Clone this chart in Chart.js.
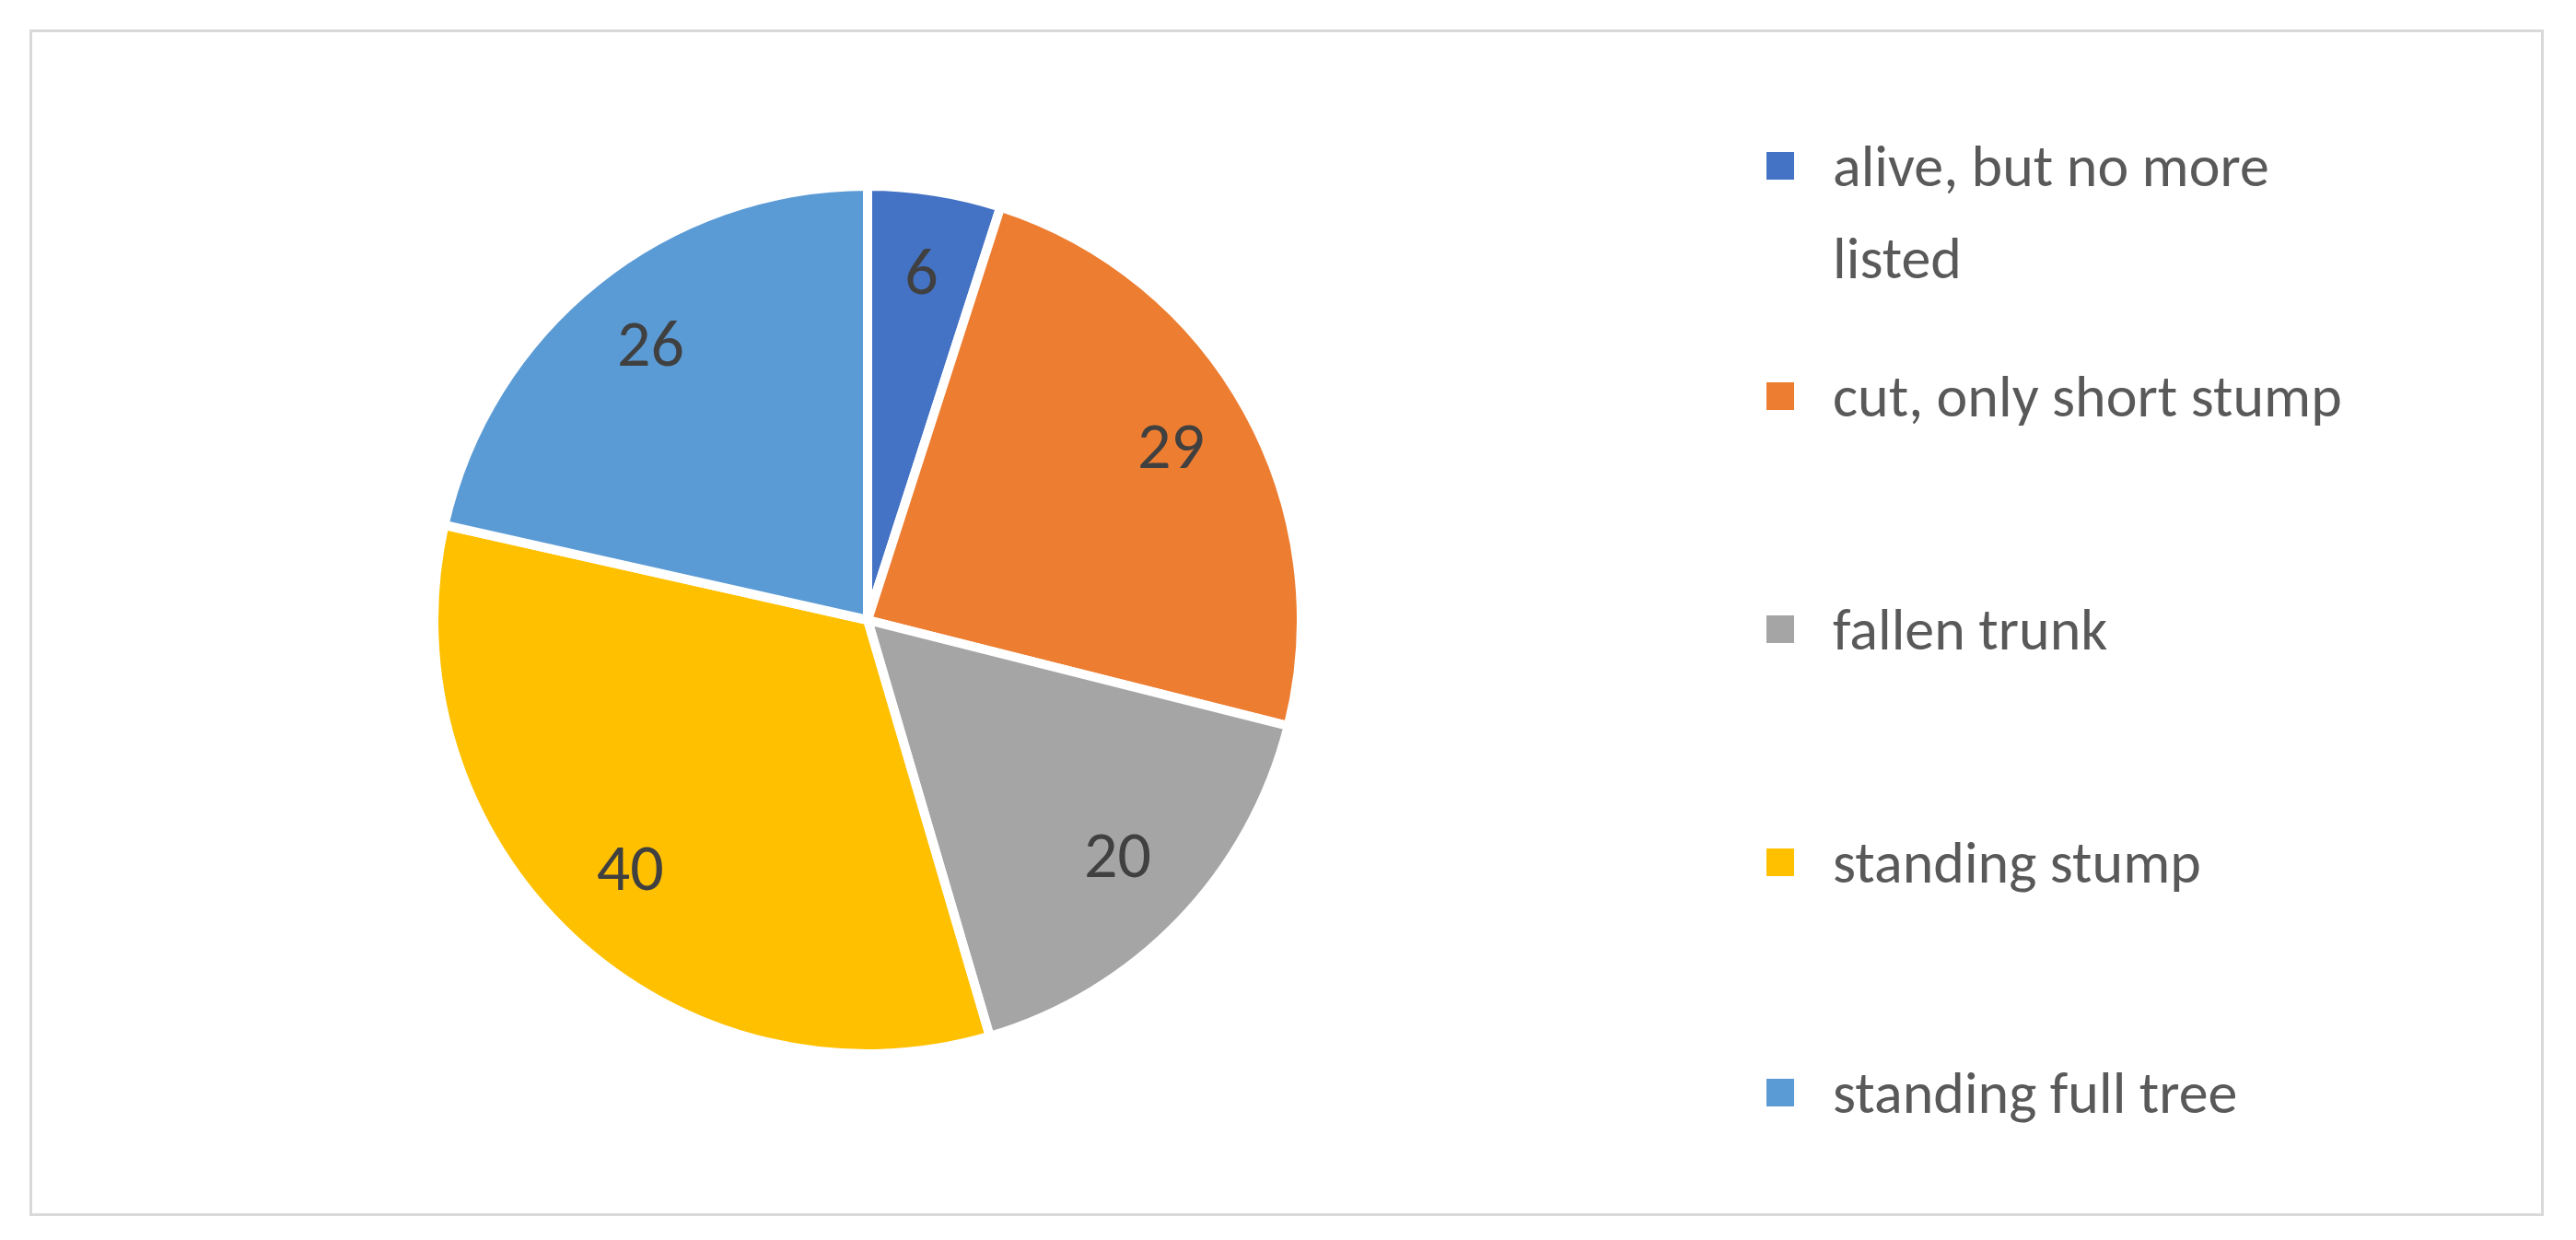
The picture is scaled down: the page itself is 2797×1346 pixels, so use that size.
<!DOCTYPE html>
<html>
<head>
<meta charset="utf-8">
<script src="https://cdn.jsdelivr.net/npm/chart.js@4/dist/chart.umd.min.js"></script>
<style>
body { margin: 0; background: #fff; font-family: Calibri, Carlito, "Open Sans", sans-serif; }
#frame { position: absolute; left: 32px; top: 32px; width: 2724px; height: 1282px; border: 3px solid #d9d9d9; }
#pieBox { position: absolute; left: 466px; top: 197px; width: 952px; height: 952px; }
#legend { position: absolute; left: 1918px; top: 130px; width: 800px; }
.item { position: absolute; left: 0; display: flex; align-items: flex-start; font-size: 64px; color: #595959; line-height: 100px; }
.sw { width: 30px; height: 30px; margin-top: 35px; margin-right: 42px; flex: none; }
</style>
</head>
<body>
<div id="frame"></div>
<div id="pieBox"><canvas id="pie"></canvas></div>
<div id="legend"></div>
<script>
const categories = ['alive, but no more listed', 'cut, only short stump', 'fallen trunk', 'standing stump', 'standing full tree'];
const legendLines = [['alive, but no more', 'listed'], ['cut, only short stump'], ['fallen trunk'], ['standing stump'], ['standing full tree']];
const values = [6, 29, 20, 40, 26];
const colors = ['#4472c4', '#ed7d31', '#a5a5a5', '#ffc000', '#5b9bd5'];
const legendTops = [0, 250, 503, 756, 1006];

const legend = document.getElementById('legend');
categories.forEach((c, i) => {
    const d = document.createElement('div');
    d.className = 'item';
    d.style.top = legendTops[i] + 'px';
    d.innerHTML = '<div class="sw" style="background:' + colors[i] + '"></div><div>' + legendLines[i].join('<br>') + '</div>';
    legend.appendChild(d);
});

const valueLabels = {
    id: 'valueLabels',
    afterDatasetsDraw(chart) {
        const c = chart.ctx;
        const meta = chart.getDatasetMeta(0);
        c.save();
        c.fillStyle = '#404040';
        c.font = '72px Calibri, Carlito, "Open Sans", sans-serif';
        c.textAlign = 'center';
        c.textBaseline = 'middle';
        meta.data.forEach((arc, i) => {
            const mid = (arc.startAngle + arc.endAngle) / 2;
            const r = arc.outerRadius * 0.8;
            c.fillText(String(values[i]), arc.x + Math.cos(mid) * r, arc.y + Math.sin(mid) * r);
        });
        c.restore();
    }
};

new Chart(document.getElementById('pie'), {
    type: 'pie',
    data: {
        labels: categories,
        datasets: [{
            data: values,
            backgroundColor: colors,
            borderColor: '#ffffff',
            borderWidth: 10
        }]
    },
    options: {
        responsive: true,
        maintainAspectRatio: false,
        animation: false,
        plugins: { legend: { display: false }, tooltip: { enabled: false } }
    },
    plugins: [valueLabels]
});
</script>
</body>
</html>
